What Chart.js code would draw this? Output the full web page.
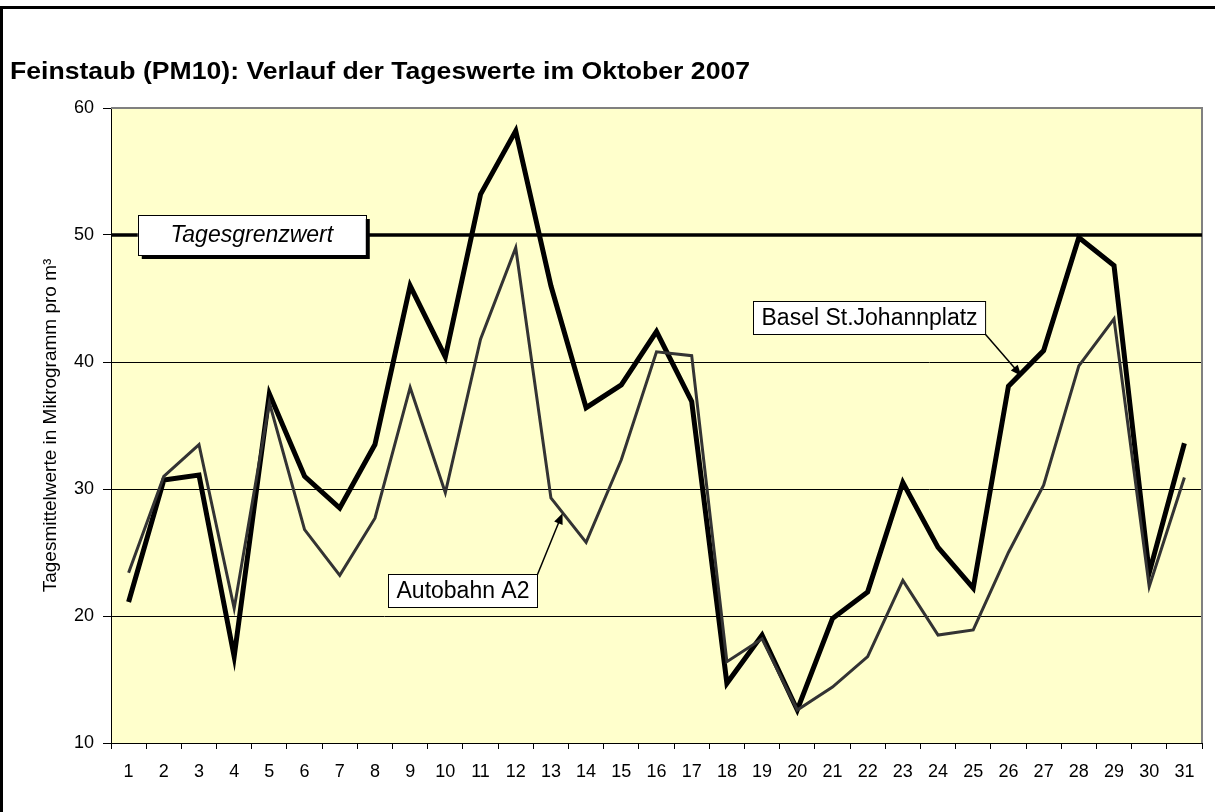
<!DOCTYPE html>
<html>
<head>
<meta charset="utf-8">
<script src="https://cdn.jsdelivr.net/npm/chart.js@4.4.0/dist/chart.umd.min.js"></script>
<style>
  body { margin: 0; background: #fff; }
  #wrap { width: 1215px; height: 812px; }
</style>
</head>
<body>
<div id="wrap"><canvas id="pmChart" width="1215" height="812"></canvas></div>
<script>
// Tageswerte PM10, Oktober 2007
const days = ["1", "2", "3", "4", "5", "6", "7", "8", "9", "10", "11", "12", "13", "14", "15", "16",
  "17", "18", "19", "20", "21", "22", "23", "24", "25", "26", "27", "28", "29", "30", "31"];

const basel = [21.1, 30.7, 31.1, 16.8, 37.5, 31.0, 28.5, 33.5, 46.0, 40.4, 53.2, 58.2, 46.0, 36.4, 38.2, 42.4,
  36.9, 14.7, 18.5, 12.6, 19.8, 21.9, 30.5, 25.4, 22.2, 38.1, 40.9, 49.8, 47.6, 23.4, 33.6];

const autobahn = [23.4, 31.0, 33.5, 20.6, 36.8, 26.8, 23.2, 27.7, 38.0, 29.7, 41.8, 49.0, 29.3, 25.8, 32.3, 40.8,
  40.5, 16.4, 18.2, 12.6, 14.4, 16.8, 22.8, 18.5, 18.9, 25.0, 30.3, 39.7, 43.4, 22.3, 30.9];

const yTicks = [10, 20, 30, 40, 50, 60];
const grenzwert = 50;

const FONT = "'Liberation Sans', Arial, sans-serif";
const TITLE = "Feinstaub (PM10): Verlauf der Tageswerte im Oktober 2007";

// Beschriftungen (Position in Achsen-Einheiten: Index, Wert)
const notes = [
  { text: "Autobahn A2", x: 9.5, y: 22.0, tipX: 12.33, tipY: 28.1, from: "topRight" },
  { text: "Basel St.Johannplatz", x: 21.05, y: 43.5, tipX: 25.37, tipY: 38.9, from: "bottomRight" }
];

function drawArrow(ctx, x1, y1, x2, y2) {
  const ang = Math.atan2(y2 - y1, x2 - x1);
  const len = 11, wid = 4.5;
  ctx.strokeStyle = "#000";
  ctx.lineWidth = 1.5;
  ctx.beginPath();
  ctx.moveTo(x1, y1);
  ctx.lineTo(x2 - Math.cos(ang) * len * 0.8, y2 - Math.sin(ang) * len * 0.8);
  ctx.stroke();
  ctx.fillStyle = "#000";
  ctx.beginPath();
  ctx.moveTo(x2, y2);
  ctx.lineTo(x2 - Math.cos(ang) * len - Math.sin(ang) * wid, y2 - Math.sin(ang) * len + Math.cos(ang) * wid);
  ctx.lineTo(x2 - Math.cos(ang) * len + Math.sin(ang) * wid, y2 - Math.sin(ang) * len - Math.cos(ang) * wid);
  ctx.closePath();
  ctx.fill();
}

const decor = {
  id: "decor",
  beforeDraw(chart) {
    const { ctx, chartArea: a } = chart;
    ctx.save();
    ctx.fillStyle = "#fff";
    ctx.fillRect(0, 0, chart.width, chart.height);
    // Rahmen
    ctx.strokeStyle = "#000";
    ctx.lineWidth = 3;
    ctx.beginPath();
    ctx.moveTo(1.5, chart.height);
    ctx.lineTo(1.5, 7.5);
    ctx.lineTo(chart.width, 7.5);
    ctx.stroke();
    // Titel (etwas breiter gezogen wie im Original)
    ctx.fillStyle = "#000";
    ctx.font = "bold 24px " + FONT;
    ctx.textBaseline = "alphabetic";
    const tw = ctx.measureText(TITLE).width;
    ctx.save();
    ctx.translate(10, 79);
    ctx.scale(740 / tw, 1);
    ctx.fillText(TITLE, 0, 0);
    ctx.restore();
    // Zeichenfläche
    ctx.fillStyle = "#FFFFCC";
    ctx.fillRect(a.left, a.top, a.right - a.left, a.bottom - a.top);
    ctx.restore();
  },
  beforeDatasetsDraw(chart) {
    const { ctx, chartArea: a, scales } = chart;
    ctx.save();
    ctx.strokeStyle = "#808080";
    ctx.lineWidth = 2;
    ctx.beginPath();
    ctx.moveTo(a.left, a.top);
    ctx.lineTo(a.right, a.top);
    ctx.lineTo(a.right, a.bottom);
    ctx.stroke();
    const yg = scales.y.getPixelForValue(grenzwert);
    ctx.strokeStyle = "#000";
    ctx.lineWidth = 3.5;
    ctx.beginPath();
    ctx.moveTo(a.left, yg);
    ctx.lineTo(a.right, yg);
    ctx.stroke();
    ctx.restore();
  },
  afterDatasetsDraw(chart) {
    const { ctx, scales } = chart;
    const x = scales.x, y = scales.y;
    ctx.save();
    // Tagesgrenzwert
    const gx = x.getPixelForValue(3.5), gy = y.getPixelForValue(grenzwert);
    const gw = 228, gh = 40;
    ctx.fillStyle = "#000";
    ctx.fillRect(gx - gw / 2 + 4, gy - gh / 2 + 4, gw, gh);
    ctx.fillStyle = "#fff";
    ctx.fillRect(gx - gw / 2, gy - gh / 2, gw, gh);
    ctx.strokeStyle = "#000";
    ctx.lineWidth = 1;
    ctx.strokeRect(Math.round(gx - gw / 2) + 0.5, Math.round(gy - gh / 2) + 0.5, gw, gh);
    ctx.fillStyle = "#000";
    ctx.font = "italic 23px " + FONT;
    ctx.textAlign = "center";
    ctx.textBaseline = "middle";
    ctx.fillText("Tagesgrenzwert", gx, gy + 1);

    ctx.font = "23px " + FONT;
    notes.forEach((n) => {
      const cx = x.getPixelForValue(n.x), cy = y.getPixelForValue(n.y);
      const w = ctx.measureText(n.text).width + 16, h = 33;
      const l = Math.round(cx - w / 2) + 0.5, t = Math.round(cy - h / 2) + 0.5;
      const sx = l + w;
      const sy = n.from === "topRight" ? t : t + h;
      drawArrow(ctx, sx, sy, x.getPixelForValue(n.tipX), y.getPixelForValue(n.tipY));
      ctx.fillStyle = "#fff";
      ctx.fillRect(l, t, w, h);
      ctx.strokeStyle = "#000";
      ctx.lineWidth = 1;
      ctx.strokeRect(l, t, w, h);
      ctx.fillStyle = "#000";
      ctx.textAlign = "center";
      ctx.textBaseline = "middle";
      ctx.fillText(n.text, l + w / 2, t + h / 2 + 1);
    });
    ctx.restore();
  }
};

new Chart(document.getElementById("pmChart"), {
  type: "line",
  data: {
    labels: days,
    datasets: [
      {
        label: "Autobahn A2",
        data: autobahn,
        borderColor: "#333333",
        borderWidth: 3,
        pointRadius: 0,
        tension: 0,
        order: 0
      },
      {
        label: "Basel St.Johannplatz",
        data: basel,
        borderColor: "#000000",
        borderWidth: 5,
        pointRadius: 0,
        tension: 0,
        order: 1
      }
    ]
  },
  options: {
    responsive: false,
    animation: false,
    devicePixelRatio: 1,
    layout: { padding: { left: 0, right: 13, top: 108, bottom: 0 } },
    plugins: {
      legend: { display: false },
      tooltip: { enabled: false }
    },
    scales: {
      x: {
        offset: true,
        grid: {
          offset: true,
          drawOnChartArea: false,
          drawTicks: true,
          tickLength: 6,
          tickColor: "#000"
        },
        border: { color: "#000", width: 1 },
        ticks: {
          color: "#000",
          font: { family: FONT, size: 18 },
          padding: 12,
          maxRotation: 0,
          autoSkip: false
        },
        afterFit: (s) => { s.height = 69; }
      },
      y: {
        min: 10,
        max: 60,
        afterBuildTicks: (s) => { s.ticks = yTicks.map((v) => ({ value: v })); },
        grid: {
          color: (c) => (c.tick && c.tick.value === 60 ? "#808080" : "#000"),
          lineWidth: 1,
          tickLength: 8,
          tickColor: "#000"
        },
        border: { color: "#000", width: 1 },
        ticks: {
          color: "#000",
          font: { family: FONT, size: 18 },
          padding: 9
        },
        title: {
          display: true,
          text: "Tagesmittelwerte in Mikrogramm pro m³",
          color: "#000",
          font: { family: FONT, size: 19 },
          padding: { top: 39, bottom: 0 }
        },
        afterFit: (s) => { s.width = 111; }
      }
    }
  },
  plugins: [decor]
});
</script>
</body>
</html>
